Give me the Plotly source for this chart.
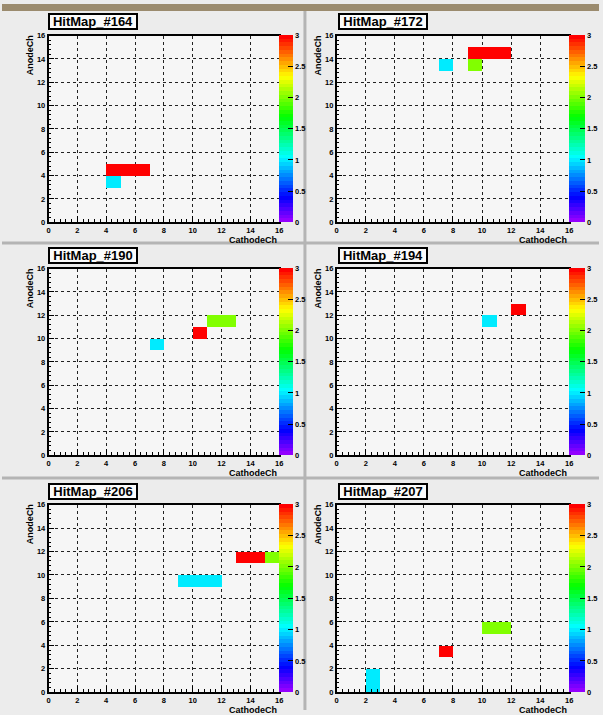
import colorsys
import plotly.graph_objects as go

W, H = 603, 715

# ---------------- data ----------------
titles = ["HitMap_#164", "HitMap_#172", "HitMap_#190",
          "HitMap_#194", "HitMap_#206", "HitMap_#207"]

# hit bins: cathode channel, anode channel, counts
hit164_x = [4, 5, 6, 4]
hit164_y = [4, 4, 4, 3]
hit164_z = [3, 3, 3, 1]

hit172_x = [9, 10, 11, 7, 9]
hit172_y = [14, 14, 14, 13, 13]
hit172_z = [3, 3, 3, 1, 2]

hit190_x = [7, 10, 11, 12]
hit190_y = [9, 10, 11, 11]
hit190_z = [1, 3, 2, 2]

hit194_x = [10, 12]
hit194_y = [11, 12]
hit194_z = [1, 3]

hit206_x = [9, 10, 11, 13, 14, 15]
hit206_y = [9, 9, 9, 11, 11, 11]
hit206_z = [1, 1, 1, 3, 3, 2]

hit207_x = [2, 2, 7, 10, 11]
hit207_y = [0, 1, 3, 5, 5]
hit207_z = [1, 1, 3, 2, 2]

channels = list(range(16))
axis_ticks = [0, 2, 4, 6, 8, 10, 12, 14, 16]
cbar_ticks = [0, 0.5, 1, 1.5, 2, 2.5, 3]
cbar_labels = ["0", "0.5", "1", "1.5", "2", "2.5", "3"]
z_min, z_max = 0, 3
x_title = "CathodeCh"
y_title = "AnodeCh"

panels = [
    (titles[0], hit164_x, hit164_y, hit164_z),
    (titles[1], hit172_x, hit172_y, hit172_z),
    (titles[2], hit190_x, hit190_y, hit190_z),
    (titles[3], hit194_x, hit194_y, hit194_z),
    (titles[4], hit206_x, hit206_y, hit206_z),
    (titles[5], hit207_x, hit207_y, hit207_z),
]

# ---------------- style ----------------
FONT = "Liberation Sans"
# ROOT "pretty" palette: 50 colours, HLS hue 280 -> 0
n_pal = 50
palette = []
for i in range(n_pal):
    hue = 280 - (i + 1) * 280 / n_pal
    r, g, b = colorsys.hls_to_rgb(hue / 360, 0.5, 1.0)
    palette.append(f"rgb({round(r*255)},{round(g*255)},{round(b*255)})")
colorscale = []
for i, c in enumerate(palette):
    colorscale.append([i / n_pal, c])
    colorscale.append([(i + 1) / n_pal, c])

col_left = [47, 338]
col_right = [280, 573]
cbar_thick = [14, 16]
row_top = [32, 268, 507]
row_bottom = [221, 457, 697]
title_cx = [92, 385]
title_cy = [18, 255, 494]

fig = go.Figure()
layout = dict(
    width=W, height=H, autosize=False,
    margin=dict(l=0, r=0, t=0, b=0),
    paper_bgcolor="#ececec", plot_bgcolor="#f6f6f6",
    showlegend=False,
    font=dict(family=FONT, color="black"),
)
annotations = []
shapes = []

for k, (title, hx, hy, hz) in enumerate(panels):
    row, col = k // 2, k % 2
    l, r = col_left[col], col_right[col]
    t, b = row_top[row], row_bottom[row]
    grid = [[None] * len(channels) for _ in channels]
    for cx, cy, cz in zip(hx, hy, hz):
        grid[cy][cx] = cz
    centers = [c + 0.5 for c in channels]
    sfx = "" if k == 0 else str(k + 1)
    fig.add_trace(go.Heatmap(
        x=centers, y=centers, z=grid,
        zmin=z_min, zmax=z_max, colorscale=colorscale,
        xaxis="x" + sfx, yaxis="y" + sfx,
        hoverongaps=False,
        colorbar=dict(
            x=r / W, xanchor="left", xpad=0,
            y=1 - b / H, yanchor="bottom", ypad=0,
            len=(b - t) / H, lenmode="fraction",
            thickness=cbar_thick[col], thicknessmode="pixels",
            outlinewidth=0,
            tickvals=cbar_ticks, ticktext=cbar_labels,
            ticks="inside", ticklen=5, tickcolor="black",
            tickfont=dict(size=7.5, family=FONT, weight="bold"),
        ),
    ))
    common = dict(
        range=[0, 16], tickvals=axis_ticks,
        ticks="inside", ticklen=6, tickcolor="black", tickwidth=1,
        minor=dict(tick0=0, dtick=0.4, ticks="inside", ticklen=3,
                   tickcolor="black", showgrid=False),
        showgrid=True, griddash="dot", gridcolor="#222222", gridwidth=1,
        showline=True, linecolor="black", linewidth=1.5, mirror=True,
        zeroline=False, fixedrange=True,
        tickfont=dict(size=7.5, family=FONT, weight="bold"),
    )
    layout["xaxis" + sfx] = dict(common, domain=[l / W, r / W], anchor="y" + sfx)
    layout["yaxis" + sfx] = dict(common, domain=[1 - b / H, 1 - t / H], anchor="x" + sfx)

    # title box
    annotations.append(dict(
        text=title, xref="paper", yref="paper",
        x=title_cx[col] / W, y=1 - title_cy[row] / H,
        xanchor="center", yanchor="middle", showarrow=False,
        bgcolor="#fbfbfb", bordercolor="black", borderwidth=2, borderpad=0,
        width=86, height=13,
        font=dict(size=13, family=FONT, weight="bold"),
    ))
    # axis titles
    annotations.append(dict(
        text=x_title, xref="paper", yref="paper",
        x=r / W, y=1 - (b + 18) / H, xanchor="right", yanchor="middle",
        showarrow=False, font=dict(size=9, family=FONT, weight="bold"),
    ))
    annotations.append(dict(
        text=y_title, xref="paper", yref="paper",
        x=(l - 19) / W, y=1 - (t - 2) / H, xanchor="center", yanchor="top",
        textangle=-90, showarrow=False,
        font=dict(size=9, family=FONT, weight="bold"),
    ))

# pad separators and top strip
shapes.append(dict(type="line", xref="paper", yref="paper",
                   x0=306 / W, x1=306 / W, y0=0, y1=1,
                   line=dict(color="#b4b4b4", width=3)))
for ys in [242, 480]:
    shapes.append(dict(type="line", xref="paper", yref="paper",
                       x0=0, x1=1, y0=1 - ys / H, y1=1 - ys / H,
                       line=dict(color="#b4b4b4", width=3)))
shapes.append(dict(type="rect", xref="paper", yref="paper",
                   x0=0, x1=1, y0=1 - 7 / H, y1=1,
                   fillcolor="#9b8b6e", line=dict(width=0)))

layout["annotations"] = annotations
layout["shapes"] = shapes
fig.update_layout(**layout)
fig.write_html("out.html")
